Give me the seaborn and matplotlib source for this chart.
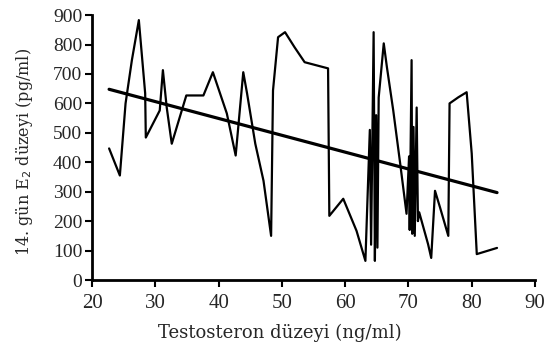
import matplotlib
matplotlib.use("Agg")
import matplotlib.pyplot as plt
import seaborn as sns
import pandas as pd

# testosterone (x) vs day-14 E2 (y)
testo = [22.7, 24.4, 25.3, 26.3, 27.4, 28.4, 28.5, 30.7, 31.2, 31.8, 32.6, 34.9,
         37.6, 39.1, 41.3, 42.7, 43.9, 44.5, 45.8, 47.1, 48.3, 48.6, 49.4, 50.5,
         52.0, 53.6, 57.3, 57.5, 59.7, 61.8, 63.2, 63.9, 64.1, 64.5, 64.7, 64.9,
         65.1, 65.3, 66.1, 66.6, 67.6, 68.7, 69.7, 70.1, 70.2, 70.5, 70.6, 70.8,
         71.0, 71.3, 71.5, 71.7, 73.1, 73.6, 74.2, 75.0, 76.3, 76.5, 77.9, 79.2,
         80.0, 80.8, 84.0]
e2 = [447, 355, 600, 747, 883, 634, 484, 576, 713, 587, 463, 627,
      627, 706, 566, 423, 706, 634, 463, 337, 150, 644, 825, 842,
      791, 740, 719, 218, 276, 167, 65, 510, 120, 842, 65, 560,
      110, 620, 804, 723, 576, 395, 225, 420, 170, 747, 157, 520,
      150, 586, 200, 230, 122, 75, 303, 246, 150, 600, 621, 638,
      430, 88, 109]

# fitted trend line ends
trend_x = [22.7, 84.0]
trend_y = [648, 297]

df = pd.DataFrame({"testo": testo, "e2": e2})
trend = pd.DataFrame({"testo": trend_x, "e2": trend_y})

sns.set_style("white")
plt.rcParams["font.family"] = ["Liberation Serif", "DejaVu Serif"]

fig = plt.figure(figsize=(5.52, 3.49), dpi=100)
ax = fig.add_axes([0.1667, 0.1977, 0.8025, 0.759])

sns.lineplot(data=df, x="testo", y="e2", sort=False, estimator=None,
             color="black", linewidth=1.6, ax=ax)
sns.lineplot(data=trend, x="testo", y="e2", sort=False, estimator=None,
             color="black", linewidth=2.3, ax=ax)

ax.set_xlim(20, 90)
ax.set_ylim(0, 900)
ax.set_xticks(range(20, 91, 10))
ax.set_yticks(range(0, 901, 100))
ax.tick_params(axis="both", direction="out", length=5, width=1.5,
               color="black", bottom=True, left=True)
ax.tick_params(axis="x", labelsize=15, pad=5)
ax.tick_params(axis="y", labelsize=14, pad=2)

# labels use a wider serif, like the original
ax.set_xlabel("Testosteron düzeyi (ng/ml)", fontsize=13, family="DejaVu Serif")
ax.set_ylabel("14. gün E$_2$ düzeyi (pg/ml)", fontsize=11.5, family="DejaVu Serif")
ax.xaxis.set_label_coords(0.425, -0.165)
ax.yaxis.set_label_coords(-0.128, 0.485)

for s in ["top", "right"]:
    ax.spines[s].set_visible(False)
for s in ["left", "bottom"]:
    ax.spines[s].set_color("black")
    ax.spines[s].set_linewidth(2)

fig.savefig("out.png", dpi=100)
